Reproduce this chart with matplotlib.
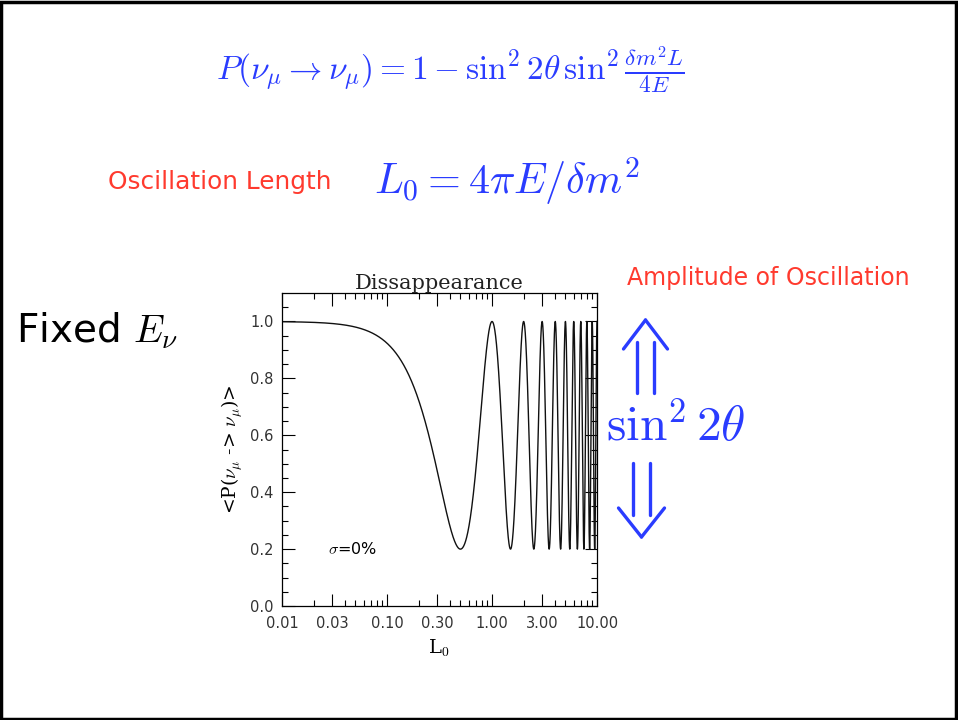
import numpy as np
import matplotlib
matplotlib.use("Agg")
import matplotlib.pyplot as plt
from matplotlib.lines import Line2D
from matplotlib.patches import Rectangle
from matplotlib.ticker import FixedLocator, NullFormatter

plt.rcParams['mathtext.fontset'] = 'cm'

# survival probability parameters
sin2_2theta = 0.8          # amplitude of oscillation
sigma_label = r'$\sigma$=0%'
L_min, L_max = 0.01, 10.0  # range of L/L0

x_major = [0.01, 0.03, 0.10, 0.30, 1.00, 3.00, 10.00]
x_major_labels = ['0.01', '0.03', '0.10', '0.30', '1.00', '3.00', '10.00']
x_minor = [0.02, 0.04, 0.05, 0.06, 0.07, 0.08, 0.09,
           0.2, 0.4, 0.5, 0.6, 0.7, 0.8, 0.9,
           2, 4, 5, 6, 7, 8, 9]
y_major = [0.0, 0.2, 0.4, 0.6, 0.8, 1.0]

BLUE = '#2a3cff'
RED = '#ff3a2e'

# P = 1 - sin^2(2theta) sin^2(dm^2 L / 4E), with dm^2 L / 4E = pi L / L0
L = np.geomspace(L_min, L_max, 6000)
P = 1 - sin2_2theta * np.sin(np.pi * L) ** 2

fig = plt.figure(figsize=(9.58, 7.2), dpi=100)

# slide frame
fig.patches.append(Rectangle((0.0015, 0.002), 0.996, 0.995, transform=fig.transFigure,
                             fill=False, edgecolor='black', linewidth=2.5))

ax = fig.add_axes([0.2944, 0.1583, 0.3288, 0.4347])
ax.plot(L, P, color='#111111', linewidth=1.0)
ax.set_xscale('log')
ax.set_xlim(L_min, L_max)
ax.set_ylim(0, 1.1)

ax.xaxis.set_major_locator(FixedLocator(x_major))
ax.xaxis.set_minor_locator(FixedLocator(x_minor))
ax.set_xticklabels(x_major_labels)
ax.xaxis.set_minor_formatter(NullFormatter())
ax.set_yticks(y_major)
ax.set_yticks(np.arange(0, 1.1, 0.05), minor=True)
ax.set_yticklabels([f'{v:.1f}' for v in y_major])

ax.tick_params(which='both', direction='in', top=True, right=True,
               labelsize=10.5, colors='black', labelcolor='#333333')
ax.tick_params(which='major', length=9, width=0.8)
ax.tick_params(which='minor', length=4.5, width=0.8)
ax.tick_params(axis='x', which='major', pad=7)
ax.tick_params(axis='y', which='major', pad=6)
for s in ax.spines.values():
    s.set_linewidth(0.9)

ax.set_title('Dissappearance', family='DejaVu Serif', fontsize=15, pad=2, color='#222222')
ax.set_xlabel(r'L$_0$', family='DejaVu Serif', fontsize=14, labelpad=5)
ax.set_ylabel(r'<P($\nu_\mu$ -> $\nu_\mu$)>', family='DejaVu Serif', fontsize=13.5, labelpad=4)
ax.text(0.145, 0.182, sigma_label, transform=ax.transAxes, fontsize=11.5, va='center')

# slide text
fig.text(0.470, 0.903, r'$P(\nu_\mu \rightarrow \nu_\mu) = 1 - \sin^2 2\theta\, \sin^2 \frac{\delta m^2 L}{4E}$',
         color=BLUE, fontsize=24, ha='center', va='center')
fig.text(0.113, 0.747, 'Oscillation Length', color=RED, fontsize=17.8, ha='left', va='center')
fig.text(0.390, 0.749, r'$L_0 = 4\pi E/\delta m^2$', color=BLUE, fontsize=30.5, ha='left', va='center')
fig.text(0.017, 0.541, r'Fixed $E_\nu$', color='black', fontsize=28, ha='left', va='center')
fig.text(0.654, 0.614, 'Amplitude of Oscillation', color=RED, fontsize=17, ha='left', va='center')
fig.text(0.633, 0.408, r'$\sin^2 2\theta$', color=BLUE, fontsize=35.5, ha='left', va='center')


def px(x, y):
    return x / 958, 1 - y / 720


def double_arrow(x_l, x_r, y_tail, y_tip, y_wing, half_w):
    xc = (x_l + x_r) / 2
    segs = [[(x_l, y_tail), (x_l, y_tip + (y_wing - y_tip) * 0.75)],
            [(x_r, y_tail), (x_r, y_tip + (y_wing - y_tip) * 0.75)],
            [(xc - half_w, y_wing), (xc, y_tip)],
            [(xc + half_w, y_wing), (xc, y_tip)]]
    for seg in segs:
        (x0, y0), (x1, y1) = seg
        a, b = px(x0, y0), px(x1, y1)
        fig.add_artist(Line2D([a[0], b[0]], [a[1], b[1]], transform=fig.transFigure,
                              color=BLUE, linewidth=2.4, solid_capstyle='round'))


double_arrow(637, 654, 393, 320, 349, 22)
double_arrow(633, 650, 463, 537, 508, 23)

fig.savefig('out.png', dpi=100)
